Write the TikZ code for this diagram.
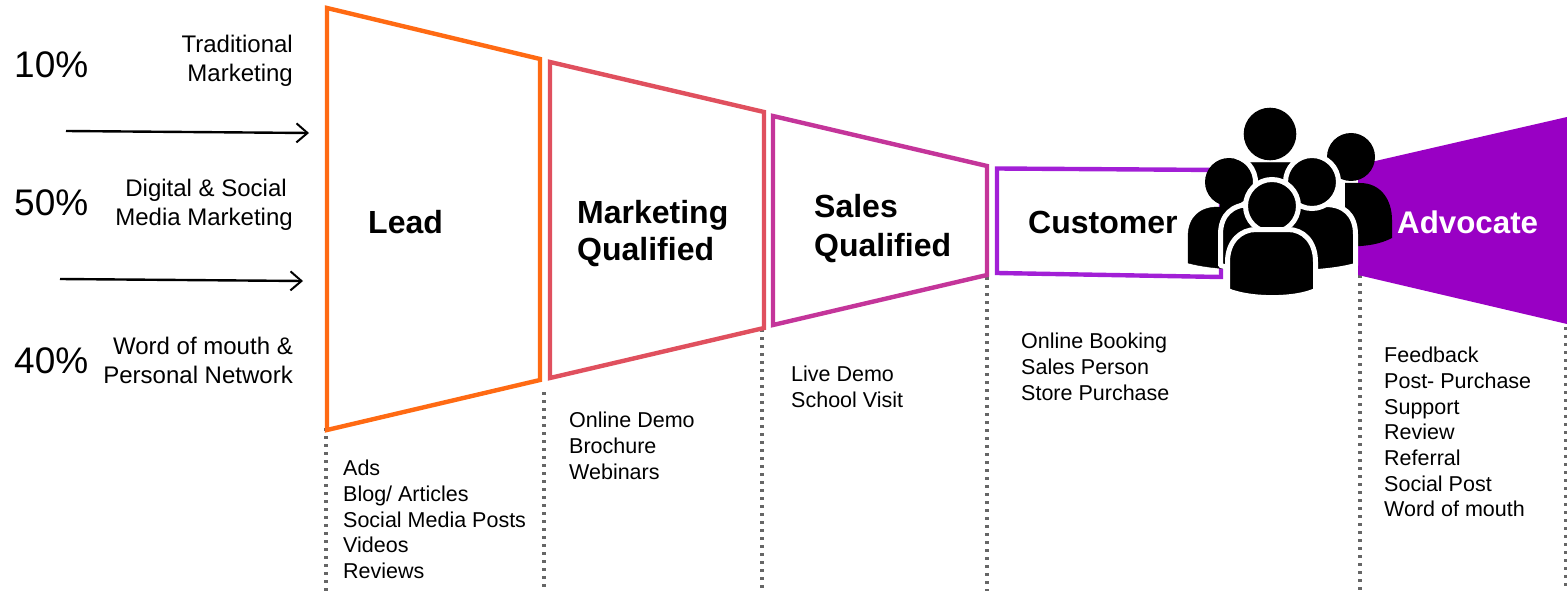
\documentclass[tikz,border=0pt]{standalone}
\usepackage{fontspec}
\setmainfont{Liberation Sans}
\usetikzlibrary{arrows.meta}
\definecolor{cLead}{HTML}{FF6A13}
\definecolor{cMql}{HTML}{E0505E}
\definecolor{cSql}{HTML}{C4359A}
\definecolor{cCust}{HTML}{A21FD6}
\definecolor{cAdv}{HTML}{9900C4}
\definecolor{cDot}{HTML}{666666}
\newcommand{\persona}[6][personbody]{% style, cx, top, half width, side bottom, bottom
  \draw[#1] ({#2-#4},{#5}) -- ({#2-#4},{#3+30}) .. controls ({#2-#4},{#3+10}) and ({#2-#4+12},{#3}) .. ({#2-#4+30},{#3}) -- ({#2+#4-30},{#3}) .. controls ({#2+#4-12},{#3}) and ({#2+#4},{#3+10}) .. ({#2+#4},{#3+30}) -- ({#2+#4},{#5}) .. controls ({#2+#4/2},{#6}) and ({#2-#4/2},{#6}) .. ({#2-#4},{#5}) -- cycle;}
\tikzset{
  x=1pt,y=-1pt,
  funnel/.style={line width=4.4pt,miter limit=10},
  guide/.style={draw=cDot,line width=3.2pt,dash pattern=on 3pt off 5pt},
  small/.style={font=\fontsize{21.5}{25.7}\selectfont,align=left,anchor=north west,inner sep=0pt},
  source/.style={font=\fontsize{24}{29}\selectfont,align=right,anchor=north east,inner sep=0pt},
  pct/.style={font=\fontsize{37}{40}\selectfont,anchor=west,inner sep=0pt},
  stage/.style={font=\fontsize{32}{37}\selectfont\bfseries,align=left,anchor=west,inner sep=0pt},
  personbody/.style={fill=black,draw=white,line width=5pt,line join=round},
  personfill/.style={fill=black},
  personhead/.style={fill=black,draw=white,line width=5pt},
  flow/.style={-{Straight Barb[length=11pt,width=19pt,line width=2pt]},line width=2.4pt,black},
}
\begin{document}
\begin{tikzpicture}
\useasboundingbox (0,0) rectangle (1567,591);
% guides
\coordinate (g1a) at (326,428); \coordinate (g1b) at (326,591);
\coordinate (g2a) at (544,392); \coordinate (g2b) at (544,591);
\coordinate (g3a) at (762,329); \coordinate (g3b) at (762,591);
\coordinate (g4a) at (987,277); \coordinate (g4b) at (987,591);
\coordinate (g5a) at (1360,275); \coordinate (g5b) at (1360,591);
\coordinate (g6a) at (1566,327); \coordinate (g6b) at (1566,591);
\foreach \g in {1,...,6} \draw[guide] (g\g a) -- (g\g b);
% funnel
\draw[funnel,draw=cLead] (327,8) -- (540,59) -- (540,380) -- (327,430) -- cycle;
\draw[funnel,draw=cMql] (550,62) -- (764,112) -- (764,328) -- (550,378) -- cycle;
\draw[funnel,draw=cSql] (773,116) -- (987,166) -- (987,275) -- (773,325) -- cycle;
\draw[funnel,draw=cCust] (997,168.5) -- (1221,170) -- (1221,277) -- (997,273) -- cycle;
\fill[cAdv] (1358,165) -- (1567,117) -- (1567,324) -- (1358,275) -- cycle;
% people
\fill[black] (1270,134) circle (26.3);
\persona[personfill]{1270}{162.5}{50}{230}{240}
\fill[black] (1351,157) circle (24);
\fill[black] (1345,183) -- (1360,183) .. controls (1381,183) and (1392,200) .. (1392,220) -- (1392,238) .. controls (1380,244) and (1368,246.5) .. (1345,246.5) -- cycle;
\persona[personfill]{1253}{207}{65}{263}{272}
\fill[black] (1229,182) circle (24);
\draw[white,line width=5pt] (1229,182) ++(-75:26.5) arc[start angle=-75,end angle=75,radius=26.5];
\persona{1288}{204.5}{67.5}{265.5}{275}
\draw[personhead] (1312,182) circle (26.5);
\draw[personhead] (1272,206) circle (26.5);
\draw[personbody] (1227.5,290.5) -- (1227.5,262) .. controls (1227.5,241) and (1241,229.5) .. (1256,229.5) -- (1288,229.5) .. controls (1303,229.5) and (1315.5,241) .. (1315.5,262) -- (1315.5,290.5) .. controls (1295,300) and (1250,300) .. (1227.5,290.5) -- cycle;
% labels
\node[pct] (p1) at (14,65) {10\%};
\node[pct] (p2) at (14,203) {50\%};
\node[pct] (p3) at (14,361) {40\%};
\node[source] (s1) at (293,35) {Traditional\\Marketing};
\node[source] (s2) at (293,179) {Digital \& Social\hspace*{6pt}\\Media Marketing};
\node[source] (s3) at (293,337) {Word of mouth \&\\Personal Network};
\coordinate (a1s) at (66,131); \coordinate (a1e) at (309,133);
\coordinate (a2s) at (60,279); \coordinate (a2e) at (303,281);
\draw[flow] (a1s) -- (a1e);
\draw[flow] (a2s) -- (a2e);
\node[stage] (n1) at (368,222) {Lead};
\node[stage] (n2) at (577,234) {Marketing\\Qualified};
\node[stage,font=\fontsize{32}{38.5}\selectfont\bfseries] (n3) at (814,228.5) {Sales\\Qualified};
\node[stage] (n4) at (1028,222) {Customer};
\node[stage,white,font=\fontsize{31.3}{37}\selectfont\bfseries] (n5) at (1397,222) {Advocate};
\node[small] (t1) at (343,460) {Ads\\Blog/ Articles\\Social Media Posts\\Videos\\Reviews};
\node[small] (t2) at (569,412) {Online Demo\\Brochure\\Webinars};
\node[small] (t3) at (791,366) {Live Demo\\School Visit};
\node[small] (t4) at (1021,333) {Online Booking\\Sales Person\\Store Purchase};
\node[small] (t5) at (1384,347) {Feedback\\Post- Purchase\\Support\\Review\\Referral\\Social Post\\Word of mouth};
\end{tikzpicture}
\end{document}
